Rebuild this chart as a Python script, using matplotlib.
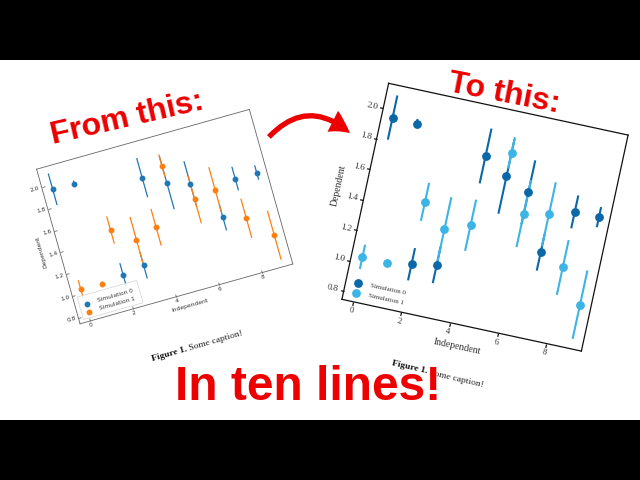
import matplotlib
matplotlib.use("Agg")
import matplotlib.pyplot as plt
import numpy as np
from matplotlib.transforms import Affine2D
from matplotlib.patches import Rectangle, FancyArrowPatch
import mpl_toolkits.axisartist.floating_axes as floating_axes
from mpl_toolkits.axisartist.grid_finder import FixedLocator, DictFormatter

# data (both panels show the same simulation)
x_vals = [0, 1, 2, 3, 4, 5, 6, 7, 8, 9]
sim0_y = [1.955, 1.95, 1.06, 1.09, 1.84, 1.74, 1.67, 1.31, 1.61, 1.61]
sim0_err = [0.145, 0.03, 0.106, 0.12, 0.18, 0.245, 0.21, 0.12, 0.108, 0.066]
sim1_y = [1.04, 1.035, 1.47, 1.325, 1.385, 1.895, 1.53, 1.56, 1.245, 1.035]
sim1_err = [0.08, 0.02, 0.125, 0.21, 0.168, 0.103, 0.22, 0.21, 0.18, 0.225]
series_names = ["Simulation 0", "Simulation 1"]

x_ticks = [0, 2, 4, 6, 8]
x_tick_labels = ["0", "2", "4", "6", "8"]
y_ticks = [0.8, 1.0, 1.2, 1.4, 1.6, 1.8, 2.0]
y_tick_labels = ["0.8", "1.0", "1.2", "1.4", "1.6", "1.8", "2.0"]

RED = "#ec0000"

fig = plt.figure(figsize=(6.4, 4.8), dpi=100, facecolor="black")
W, H = 640, 480
fig.add_artist(Rectangle((0, 60 / H), 1, 360 / H, transform=fig.transFigure,
                         facecolor="white", edgecolor="none", zorder=-1))


def auto_lim(lo, hi):
    pad = 0.05 * (hi - lo)
    return lo - pad, hi + pad


xlim = auto_lim(min(x_vals), max(x_vals))
ylim = auto_lim(min(np.subtract(sim0_y, sim0_err).min(), np.subtract(sim1_y, sim1_err).min()),
                max(np.add(sim0_y, sim0_err).max(), np.add(sim1_y, sim1_err).max()))


def rotated_axes(center, size, angle):
    sx = size[0] / (xlim[1] - xlim[0])
    sy = size[1] / (ylim[1] - ylim[0])
    tr = Affine2D().scale(sx, sy).rotate_deg(angle)
    helper = floating_axes.GridHelperCurveLinear(
        tr, extremes=(xlim[0], xlim[1], ylim[0], ylim[1]),
        grid_locator1=FixedLocator(x_ticks),
        tick_formatter1=DictFormatter(dict(zip(x_ticks, x_tick_labels))),
        grid_locator2=FixedLocator(y_ticks),
        tick_formatter2=DictFormatter(dict(zip(y_ticks, y_tick_labels))))
    corners = tr.transform([[xlim[0], ylim[0]], [xlim[1], ylim[0]],
                            [xlim[1], ylim[1]], [xlim[0], ylim[1]]])
    bw = (corners[:, 0].max() - corners[:, 0].min()) * 1.02
    bh = (corners[:, 1].max() - corners[:, 1].min()) * 1.02
    rect = [(center[0] - bw / 2) / W, (center[1] - bh / 2) / H, bw / W, bh / H]
    ax = fig.add_axes(rect, axes_class=floating_axes.FloatingAxes, grid_helper=helper)
    aux = ax.get_aux_axes(tr)
    return ax, aux


def frac(fx, fy):
    return (xlim[0] + fx * (xlim[1] - xlim[0]), ylim[0] + fy * (ylim[1] - ylim[0]))


def panel(center, size, angle, colors, font, fsize, ms, lw, spine_col, tick_out,
          leg_rows, leg_frame, label_pad):
    ax, aux = rotated_axes(center, size, angle)
    ax.axis[:].line.set_color(spine_col)
    ax.axis[:].line.set_linewidth(lw[1])
    ax.axis[:].major_ticks.set_ticksize(2.2 if tick_out else 2.5)
    # axisartist draws these ticks the other way round, hence the "not"
    ax.axis[:].major_ticks.set_tick_out(not tick_out)
    ax.axis[:].major_ticks.set_color(spine_col)
    ax.axis[:].major_ticks.set_markeredgewidth(lw[1])
    ax.axis["top", "right"].major_ticks.set_visible(False)
    ax.axis[:].major_ticklabels.set_fontsize(fsize[0])
    ax.axis[:].major_ticklabels.set_fontfamily(font)
    ax.axis[:].major_ticklabels.set_color("#333333")
    ax.axis[:].major_ticklabels.set_pad(1.5)
    ax.axis["bottom"].label.set_text("Independent")
    ax.axis["left"].label.set_text("Dependent")
    for side in ["bottom", "left"]:
        ax.axis[side].label.set_fontsize(fsize[1])
        ax.axis[side].label.set_fontfamily(font)
        ax.axis[side].label.set_color("#333333")
        ax.axis[side].label.set_pad(label_pad)

    for ys, es, col in zip([sim0_y, sim1_y], [sim0_err, sim1_err], colors):
        aux.errorbar(x_vals, ys, yerr=es, fmt="o", color=col, ms=ms, elinewidth=lw[0],
                     mec=col)

    if leg_frame:
        (bx0, by0), (bx1, by1) = frac(0.02, 0.02), frac(0.30, 0.165)
        aux.add_patch(Rectangle((bx0, by0), bx1 - bx0, by1 - by0, facecolor="white",
                                edgecolor="#cccccc", lw=0.5, alpha=0.85, zorder=4))
    for (fx, fy, tx), name, col in zip(leg_rows, series_names, colors):
        px, py = frac(fx, fy)
        aux.plot([px], [py], "o", color=col, ms=ms, zorder=5)
        qx, qy = frac(tx, fy)
        aux.text(qx, qy, name, rotation=angle, rotation_mode="anchor", ha="left",
                 va="center", fontsize=fsize[2], family=font, color="#333333", zorder=5)
    return ax


# "From this": default-looking matplotlib chart, shrunk and tilted
panel(center=(164.7, 263.4), size=(221, 160.6), angle=15.7,
      colors=["#1f77b4", "#ff7f0e"], font="DejaVu Sans", fsize=(4.2, 4.3, 4.2),
      ms=3.2, lw=(0.9, 0.6), spine_col="#666666", tick_out=True,
      leg_rows=[(0.055, 0.11, 0.105), (0.055, 0.055, 0.105)], leg_frame=True,
      label_pad=2.5)

# "To this": serif styled chart
panel(center=(485, 262.8), size=(245, 221), angle=-12.2,
      colors=["#0b68a8", "#3cb4e5"], font="Liberation Serif", fsize=(6.5, 7, 5),
      ms=5.3, lw=(1.5, 0.9), spine_col="#111111", tick_out=False,
      leg_rows=[(0.05, 0.087, 0.10), (0.05, 0.042, 0.10)], leg_frame=False,
      label_pad=4)


def caption(px, py, angle):
    fig.text(px / W, py / H, "Figure 1.", rotation=angle, rotation_mode="anchor",
             ha="right", va="center", fontsize=6.8, fontweight="bold",
             family="Liberation Serif", color="#111111")
    fig.text(px / W, py / H, " Some caption!", rotation=angle, rotation_mode="anchor",
             ha="left", va="center", fontsize=6.8, family="Liberation Serif",
             color="#222222")


caption(186.5, 130.8, 16)
caption(427.1, 108.3, -13)

fig.text(53 / W, 336 / H, "From this:", rotation=13, rotation_mode="anchor",
         ha="left", va="baseline", fontsize=23, fontweight="bold",
         family="Liberation Sans", color=RED)
fig.text(447 / W, 389 / H, "To this:", rotation=-11, rotation_mode="anchor",
         ha="left", va="baseline", fontsize=23, fontweight="bold",
         family="Liberation Sans", color=RED)
fig.text(308 / W, 80.5 / H, "In ten lines!", ha="center", va="baseline",
         fontsize=34.5, fontweight="bold", family="Liberation Sans", color=RED)

arrow = FancyArrowPatch((267 / W, 341 / H), (352 / W, 345 / H), transform=fig.transFigure,
                        connectionstyle="arc3,rad=-0.5",
                        arrowstyle="simple,head_length=1.5,head_width=1.7,tail_width=0.38",
                        mutation_scale=10, color=RED, lw=0)
fig.add_artist(arrow)

fig.savefig("out.png", dpi=100)
